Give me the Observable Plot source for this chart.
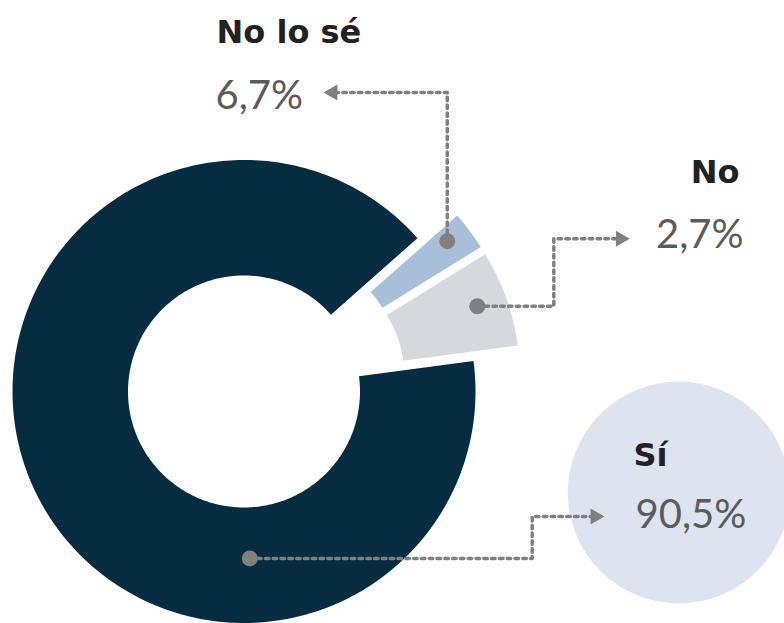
<!DOCTYPE html>
<html>
<head>
<meta charset="utf-8">
<script src="https://cdn.jsdelivr.net/npm/d3@7"></script>
<script src="https://cdn.jsdelivr.net/npm/@observablehq/plot@0.6"></script>
<style>
  html, body { margin: 0; padding: 0; background: #ffffff; }
  #chart svg { display: block; }
</style>
</head>
<body>
<div id="chart"></div>
<script>
// ---------- data ----------
const categories = ["Sí", "No", "No lo sé"];
const values = [90.5, 2.7, 6.7];
const valueLabels = ["90,5%", "2,7%", "6,7%"];
const sliceColors = ["#062c42", "#a7bfd9", "#d7d8de"];

// ---------- layout (positions / styles) ----------
const W = 784, H = 623;
const cx = 243.5, cy = 391, R = 231.5, R0 = 116;
const startDeg = 82.4;                  // compass angle where "Sí" starts
const explode = [0, 45.8, 46.9];        // offset distance of each slice
const explodeDeg = [null, 60.4, 70.9];  // offset direction (compass), null = bisector
// leader lines, as drawn in the reference: from a dot on a slice to a label
const leaders = [
  {label: "Sí",       slice: 0, anchorDeg: 178,  anchorR: 167,   route: [[531.7, null], [531.7, 516]], tip: [604, 516], dir: 1},
  {label: "No lo sé", slice: 1, anchorDeg: 52,   anchorR: 207.4, route: [[null, 92]], tip: [323, 92], dir: -1},
  {label: "No",       slice: 2, anchorDeg: 69.7, anchorR: 201.5, route: [[553.3, null], [553.3, 238.3]], tip: [629.3, 238.3], dir: 1}
];
const labelPos = {
  "Sí":       {name: [633, 465, "start"], pct: [635, 527, "start"]},
  "No":       {name: [739, 182.5, "end"], pct: [743, 247, "end"]},
  "No lo sé": {name: [216, 42, "start"],  pct: [215, 108, "start"]}
};
const bubble = {x: 678.3, y: 492, r: 111, fill: "#dce5ef"};

// ---------- geometry ----------
const rows = categories.map((c, i) => ({category: c, value: values[i]}));
const a0 = startDeg * Math.PI / 180;
const arcs = d3.pie().sort(null).value(d => d.value).startAngle(a0).endAngle(a0 + 2 * Math.PI)(rows);

const pt = (ang, r, ox = 0, oy = 0) => ({x: cx + ox + r * Math.sin(ang), y: cy + oy - r * Math.cos(ang)});
const offsets = arcs.map((a, i) => {
  const mid = (a.startAngle + a.endAngle) / 2;
  const dirA = explodeDeg[i] == null ? mid : explodeDeg[i] * Math.PI / 180;
  return {mid, ox: explode[i] * Math.sin(dirA), oy: -explode[i] * Math.cos(dirA)};
});

const slicePts = arcs.flatMap((a, i) => {
  const {ox, oy} = offsets[i];
  const n = Math.max(8, Math.ceil((a.endAngle - a.startAngle) * 180 / Math.PI));
  const pts = [];
  for (let k = 0; k <= n; k++) pts.push(pt(a.startAngle + (a.endAngle - a.startAngle) * k / n, R, ox, oy));
  for (let k = n; k >= 0; k--) pts.push(pt(a.startAngle + (a.endAngle - a.startAngle) * k / n, R0, ox, oy));
  return pts.map(p => ({...p, category: a.data.category}));
});

// leader paths
const arrowLen = 13.9;
const leaderPts = [], dots = [], heads = [];
leaders.forEach(L => {
  const o = offsets[L.slice];
  const ang = L.anchorDeg == null ? o.mid : L.anchorDeg * Math.PI / 180;
  const start = pt(ang, L.anchorR, o.ox, o.oy);
  dots.push(start);
  const path = [start];
  let cur = start;
  L.route.forEach(([x, y]) => { cur = {x: x == null ? cur.x : x, y: y == null ? cur.y : y}; path.push(cur); });
  const base = {x: L.tip[0] - L.dir * arrowLen, y: L.tip[1]};
  path.push(base);
  path.forEach(p => leaderPts.push({...p, label: L.label}));
  heads.push({x: L.tip[0] - L.dir * arrowLen * 2 / 3, y: L.tip[1], rot: L.dir > 0 ? 90 : -90});
});

const names = categories.map(c => ({text: c, x: labelPos[c].name[0], y: labelPos[c].name[1], anchor: labelPos[c].name[2]}));
const pcts = categories.map((c, i) => ({text: valueLabels[i], x: labelPos[c].pct[0], y: labelPos[c].pct[1], anchor: labelPos[c].pct[2]}));

const leaderColor = "#808080";

const chart = Plot.plot({
  width: W,
  height: H,
  margin: 0,
  x: {domain: [0, W], range: [0, W], axis: null},
  y: {domain: [0, H], range: [0, H], axis: null},
  color: {domain: categories, range: sliceColors},
  style: {background: "#ffffff", overflow: "hidden"},
  marks: [
    Plot.dot([bubble], {x: "x", y: "y", r: bubble.r, fill: bubble.fill, stroke: "none"}),
    Plot.line(slicePts, {x: "x", y: "y", z: "category", fill: "category", stroke: "none", curve: "linear-closed"}),
    Plot.line(leaderPts, {x: "x", y: "y", z: "label", stroke: leaderColor, strokeWidth: 3.5, strokeDasharray: "3.5,4.3", curve: "linear"}),
    Plot.dot(dots, {x: "x", y: "y", r: 8, fill: leaderColor, stroke: "none"}),
    Plot.dot(heads, {x: "x", y: "y", r: 5.94, symbol: "triangle", rotate: "rot", fill: leaderColor, stroke: "none"}),
    Plot.text(names.filter(d => d.anchor === "start"), {x: "x", y: "y", text: "text", textAnchor: "start", lineAnchor: "bottom", fontFamily: "DejaVu Sans", fontWeight: "bold", fontSize: 32, fill: "#222222"}),
    Plot.text(names.filter(d => d.anchor === "end"), {x: "x", y: "y", text: "text", textAnchor: "end", lineAnchor: "bottom", fontFamily: "DejaVu Sans", fontWeight: "bold", fontSize: 32, fill: "#222222"}),
    Plot.text(pcts.filter(d => d.anchor === "start"), {x: "x", y: "y", text: "text", textAnchor: "start", lineAnchor: "bottom", fontFamily: "Lato", fontWeight: 400, fontSize: 40, fill: "#5b5b5b"}),
    Plot.text(pcts.filter(d => d.anchor === "end"), {x: "x", y: "y", text: "text", textAnchor: "end", lineAnchor: "bottom", fontFamily: "Lato", fontWeight: 400, fontSize: 40, fill: "#5b5b5b"})
  ]
});
document.getElementById("chart").appendChild(chart);
</script>
</body>
</html>
